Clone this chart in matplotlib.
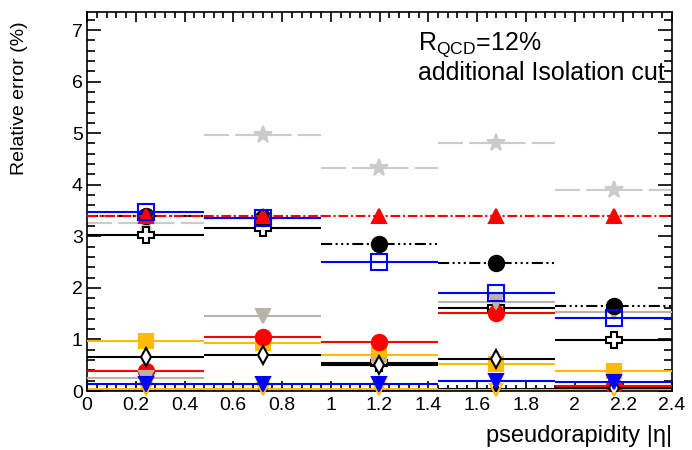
import numpy as np
import matplotlib
matplotlib.use("Agg")
import matplotlib.pyplot as plt
from matplotlib.ticker import MultipleLocator

plt.rcParams['font.family'] = ['Liberation Sans', 'DejaVu Sans']
plt.rcParams['lines.scale_dashes'] = False

# |eta| binning
edges = np.array([0.0, 0.48, 0.96, 1.44, 1.92, 2.4])
centers = 0.5 * (edges[:-1] + edges[1:])

# relative errors (%) per bin for each source
err_star = [3.25, 4.97, 4.32, 4.80, 3.89]
err_tri_red = [3.40, 3.40, 3.40, 3.40, 3.40]
err_sq_blue = [3.48, 3.35, 2.51, 1.90, 1.42]
err_circ_black = [3.40, 3.36, 2.86, 2.49, 1.64]
err_cross = [3.02, 3.17, 0.55, 1.60, 0.99]
err_circ_red = [0.39, 1.05, 0.95, 1.52, 0.09]
err_tri_grey = [0.25, 1.46, 0.50, 1.73, 1.53]
err_sq_orange = [0.97, 0.93, 0.70, 0.52, 0.39]
err_diamond = [0.66, 0.70, 0.50, 0.62, 0.05]
err_tri_blue = [0.13, 0.14, 0.14, 0.19, 0.17]
err_tri_orange = [0.03, 0.03, 0.03, 0.02, 0.02]
err_tri_black = [0.02, 0.04, 0.02, 0.04, 0.02]

fig = plt.figure(figsize=(6.92, 4.5), dpi=100)
ax = fig.add_axes([87 / 692, 59 / 450, 585 / 692, 379 / 450])


def draw(vals, color, ls, marker, ms, mfc, mec, z, lw=1.5, clip=True):
    ax.hlines(vals, edges[:-1], edges[1:], colors=color, linestyles=ls,
              linewidth=lw, zorder=z)
    ax.plot(centers, vals, ls='none', marker=marker, ms=ms, mfc=mfc,
            mec=mec, mew=1.5, zorder=z + 0.5, clip_on=clip)


long_dash = (0, (18, 4.5))
dash_dot = (0, (7, 2, 1.5, 2))
dash_3dot = (0, (8, 2.5, 1.5, 2.5, 1.5, 2.5, 1.5, 2.5))

grey_light = '#cbcbcb'
taupe = '#b9b2a8'
gold = '#ffbb00'

draw(err_star, grey_light, long_dash, '*', 13, grey_light, grey_light, 2)
draw(err_tri_black, 'black', '-', '^', 9, 'black', 'black', 2.2)
draw(err_tri_orange, gold, '-', 'v', 9, 'none', gold, 2.4, clip=False)
draw(err_cross, 'black', '-', 'P', 11, 'white', 'black', 2.6)
draw(err_sq_orange, gold, '-', 's', 10, gold, gold, 3.0)
draw(err_circ_red, 'red', '-', 'o', 11, 'red', 'red', 3.2)
draw(err_tri_grey, taupe, '-', 'v', 10, taupe, taupe, 3.4)
draw(err_circ_black, 'black', dash_3dot, 'o', 11, 'black', 'black', 3.6)
draw(err_diamond, 'black', '-', 'd', 9, 'white', 'black', 3.8)
draw(err_tri_red, 'red', dash_dot, '^', 10, 'red', 'red', 4.4)
draw(err_sq_blue, 'blue', '-', 's', 11, 'none', 'blue', 4.6)
draw(err_tri_blue, 'blue', '-', 'v', 10, 'blue', 'blue', 4.8)

ax.set_xlim(0, 2.4)
ax.set_ylim(0, 7.35)
ax.xaxis.set_major_locator(MultipleLocator(0.2))
ax.xaxis.set_minor_locator(MultipleLocator(0.04))
ax.yaxis.set_major_locator(MultipleLocator(1))
ax.yaxis.set_minor_locator(MultipleLocator(0.2))
ax.set_xticks(np.arange(0, 2.41, 0.2))
ax.set_xticklabels(['0', '0.2', '0.4', '0.6', '0.8', '1', '1.2', '1.4',
                    '1.6', '1.8', '2', '2.2', '2.4'])

ax.tick_params(axis='both', which='both', direction='in', top=True,
               right=True, labelsize=14, width=1.2)
ax.tick_params(axis='x', which='major', length=7, pad=4)
ax.tick_params(axis='x', which='minor', length=4)
ax.tick_params(axis='y', which='major', length=10, pad=3)
ax.tick_params(axis='y', which='minor', length=6)
for s in ax.spines.values():
    s.set_linewidth(1.2)

ax.set_ylabel('Relative error (%)', fontsize=14, loc='top')
ax.yaxis.set_label_coords(-0.101, 0.975)
ax.set_xlabel('pseudorapidity |η|', fontsize=17, loc='right')
ax.xaxis.set_label_coords(1.0, -0.09)

ax.text(0.566, 6.61, r'R$_{\mathregular{QCD}}$=12%', fontsize=18,
        transform=ax.get_yaxis_transform(), va='baseline')
ax.text(0.566, 6.03, 'additional Isolation cut', fontsize=18,
        transform=ax.get_yaxis_transform(), va='baseline')

fig.savefig('out.png', dpi=100)
